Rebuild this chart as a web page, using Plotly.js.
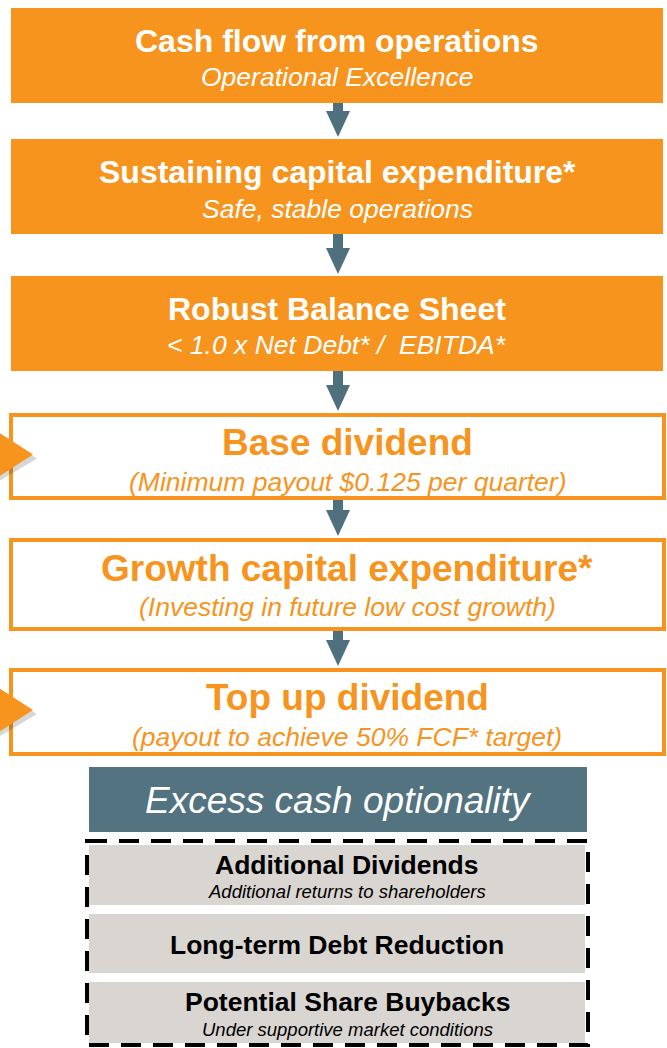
<!DOCTYPE html>
<html>
<head>
<meta charset="utf-8">
<script src="https://cdn.plot.ly/plotly-3.0.1.min.js"></script>
<style>
  html, body { margin: 0; padding: 0; background: #ffffff; }
  #chart { width: 667px; height: 1048px; }
</style>
</head>
<body>
<div id="chart"></div>
<script>
// ---- Content (text values) ----
const stepTitles = [
  "Cash flow from operations",
  "Sustaining capital expenditure*",
  "Robust Balance Sheet",
  "Base dividend",
  "Growth capital expenditure*",
  "Top up dividend"
];
const stepSubtitles = [
  "Operational Excellence",
  "Safe, stable operations",
  "&lt; 1.0 x Net Debt* /  EBITDA*",
  "(Minimum payout $0.125 per quarter)",
  "(Investing in future low cost growth)",
  "(payout to achieve 50% FCF* target)"
];
const stepKinds = ["filled", "filled", "filled", "outlined", "outlined", "outlined"];
const dividendSteps = ["Base dividend", "Top up dividend"];   // steps flagged by a side marker
const optionHeader = "Excess cash optionality";
const optionTitles = ["Additional Dividends", "Long-term Debt Reduction", "Potential Share Buybacks"];
const optionNotes = ["Additional returns to shareholders", "", "Under supportive market conditions"];

// ---- Geometry & style (kept apart from the content) ----
const W = 667, H = 1048;
const ORANGE = "#F7941E", TEAL = "#52737F", ARROW = "#4E717D", GREY = "#D9D6D1";
const FONT = "Liberation Sans, Arial, Helvetica, sans-serif";
const stepTop =    [8, 139, 276, 413, 538, 668];
const stepBottom = [103, 234, 371, 500, 631, 756];
const titleY =     [41, 172, 309, 442, 568, 697];
const subY =       [77, 209, 345, 482, 607, 737];
const titleSize =  [32, 32, 32, 37, 37, 37];
const subSize = 26.5;
const headerBox = {x0: 89, x1: 587, y0: 767, y1: 832, ty: 800};
const dashBox = {x0: 87, x1: 588, y0: 841, y1: 1045};
const optTop = [845, 914, 982], optBottom = [905, 973, 1043];
const optTitleY = [865, 945, 1002], optNoteY = [891, 0, 1029];
const optTextX = [347, 337, 347];

const shapes = [], annotations = [];

stepTitles.forEach((t, i) => {
  const filled = stepKinds[i] === "filled";
  const cx = filled ? 337 : 347;
  if (filled) {
    shapes.push({type: "rect", xref: "x", yref: "y", x0: 11, x1: 663, y0: stepTop[i], y1: stepBottom[i],
      fillcolor: ORANGE, line: {width: 0}, layer: "above"});
  } else {
    shapes.push({type: "rect", xref: "x", yref: "y", x0: 11, x1: 664, y0: stepTop[i] + 2, y1: stepBottom[i] - 2,
      fillcolor: "#ffffff", line: {color: ORANGE, width: 4}, layer: "above"});
  }
  const col = filled ? "#ffffff" : ORANGE;
  annotations.push({xref: "x", yref: "y", x: cx, y: titleY[i], text: t, showarrow: false,
    xanchor: "center", yanchor: "middle",
    font: {family: FONT, size: titleSize[i], color: col, weight: "bold"}});
  annotations.push({xref: "x", yref: "y", x: cx, y: subY[i], text: stepSubtitles[i], showarrow: false,
    xanchor: "center", yanchor: "middle",
    font: {family: FONT, size: subSize, color: col, style: "italic"}});

  // arrow to next step
  if (i < stepTitles.length - 1) {
    const b = stepBottom[i], tip = stepTop[i + 1] - 2, hs = tip - 26;
    shapes.push({type: "rect", xref: "x", yref: "y", x0: 333, x1: 343, y0: b, y1: hs + 1,
      fillcolor: ARROW, line: {width: 0}, layer: "above"});
    shapes.push({type: "path", xref: "x", yref: "y",
      path: `M 326 ${hs} L 350 ${hs} L 338 ${tip} Z`, fillcolor: ARROW, line: {width: 0}, layer: "above"});
  }

  // side marker triangle for dividend steps
  if (dividendSteps.includes(t)) {
    const c = (stepTop[i] + stepBottom[i]) / 2 - 2;
    shapes.push({type: "path", xref: "x", yref: "y",
      path: `M -15 ${c - 27} L 37 ${c + 4} L -15 ${c + 35} Z`, fillcolor: "rgba(0,0,0,0.16)", line: {width: 0}, layer: "above"});
    shapes.push({type: "path", xref: "x", yref: "y",
      path: `M -15 ${c - 31} L 33 ${c} L -15 ${c + 31} Z`, fillcolor: ORANGE, line: {width: 0}, layer: "above"});
  }
});

// header box
shapes.push({type: "rect", xref: "x", yref: "y", x0: headerBox.x0, x1: headerBox.x1, y0: headerBox.y0, y1: headerBox.y1,
  fillcolor: TEAL, line: {width: 0}, layer: "above"});
annotations.push({xref: "x", yref: "y", x: 338, y: headerBox.ty, text: optionHeader,
  showarrow: false, xanchor: "center", yanchor: "middle",
  font: {family: FONT, size: 37, color: "#ffffff", style: "italic"}});

// option boxes
optionTitles.forEach((t, i) => {
  shapes.push({type: "rect", xref: "x", yref: "y", x0: 89, x1: 585, y0: optTop[i], y1: optBottom[i],
    fillcolor: GREY, line: {width: 0}, layer: "above"});
  annotations.push({xref: "x", yref: "y", x: optTextX[i], y: optTitleY[i], text: t, showarrow: false,
    xanchor: "center", yanchor: "middle",
    font: {family: FONT, size: 26.5, color: "#000000", weight: "bold"}});
  if (optionNotes[i]) {
    annotations.push({xref: "x", yref: "y", x: optTextX[i], y: optNoteY[i], text: optionNotes[i], showarrow: false,
      xanchor: "center", yanchor: "middle",
      font: {family: FONT, size: 18.5, color: "#000000", style: "italic"}});
  }
});

// dashed frame
shapes.push({type: "rect", xref: "x", yref: "y", x0: dashBox.x0, x1: dashBox.x1, y0: dashBox.y0, y1: dashBox.y1,
  fillcolor: "rgba(0,0,0,0)", line: {color: "#000000", width: 4, dash: "20px,12px"}, layer: "above"});

const layout = {
  width: W, height: H,
  margin: {l: 0, r: 0, t: 0, b: 0, pad: 0},
  paper_bgcolor: "#ffffff", plot_bgcolor: "#ffffff",
  xaxis: {range: [0, W], visible: false, fixedrange: true},
  yaxis: {range: [H, 0], visible: false, fixedrange: true},
  showlegend: false,
  shapes: shapes,
  annotations: annotations
};

Plotly.newPlot("chart", [{x: [], y: [], type: "scatter", mode: "markers", hoverinfo: "skip"}], layout,
  {staticPlot: true, displayModeBar: false});
</script>
</body>
</html>
